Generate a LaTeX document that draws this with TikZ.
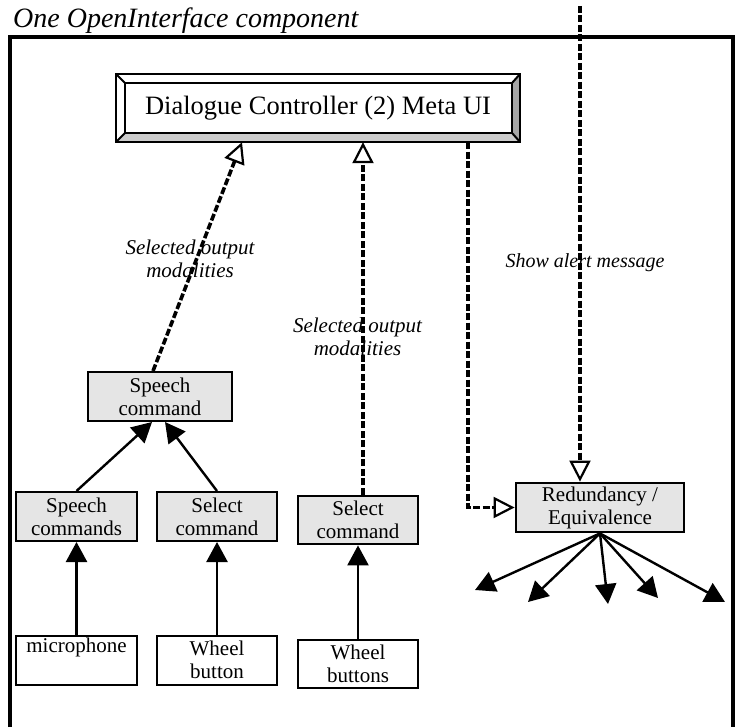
\documentclass[tikz,border=0pt]{standalone}
\usepackage{fontspec}
\setmainfont{Liberation Serif}
\usetikzlibrary{arrows.meta,calc}
\begin{document}
\begin{tikzpicture}[x=1pt,y=-1pt,
  box/.style={draw, line width=2pt, fill=gray!20, minimum width=120pt, minimum height=49pt, inner sep=0pt, align=center, font=\fontsize{21}{23}\selectfont},
  wbox/.style={box, fill=white},
  thickbox/.style={line width=2.8pt},
  dsh/.style={line width=3.6pt, dash pattern=on 7pt off 2.5pt},
  hollow/.style={-{Triangle[length=21pt,width=21pt,fill=white,line width=2.2pt]}},
  solidarr/.style={line width=2.4pt, -{Triangle[length=20pt,width=21pt]}},
  lbl/.style={font=\itshape\fontsize{21}{23}\selectfont, align=center, inner sep=0pt}
]
\useasboundingbox (0,0) rectangle (735,727);
% frame
\draw[line width=3.2pt] (10,727) -- (10,37) -- (733,37) -- (733,727);
\node[anchor=base west, inner sep=0pt, font=\itshape\fontsize{28}{32}\selectfont] (title) at (13,28) {One OpenInterface component};

% dialogue controller with bevel
\node[minimum width=404pt, minimum height=68pt, inner sep=0pt] (dlg) at (318,108) {};
\coordinate (o1) at (dlg.north west);
\coordinate (o2) at (dlg.north east);
\coordinate (o3) at (dlg.south east);
\coordinate (o4) at (dlg.south west);
\coordinate (i1) at ($(o1)+(9,9)$);
\coordinate (i2) at ($(o2)+(-8,9)$);
\coordinate (i3) at ($(o3)+(-8,-9)$);
\coordinate (i4) at ($(o4)+(9,-9)$);
\fill[white] (o1) rectangle (o3);
\fill[gray!40] (o4) -- (o3) -- (i3) -- (i4) -- cycle;
\fill[gray!70] (o2) -- (o3) -- (i3) -- (i2) -- cycle;
\draw[line width=2.4pt] (o1) rectangle (o3);
\draw[line width=2.4pt] (i1) rectangle (i3);
\draw[line width=2pt] (o1) -- (i1) (o2) -- (i2) (o3) -- (i3) (o4) -- (i4);
\node[font=\fontsize{26.5}{30}\selectfont, inner sep=0pt] (dlgtext) at (dlg.center) {Dialogue Controller (2) Meta UI};

% boxes
\node[box, minimum width=144pt] (speech) at (160,396.5) {Speech\\command};
\node[box, minimum width=121pt] (spcmds) at (76.5,516.5) {Speech\\commands};
\node[box] (selL) at (217,516.5) {Select\\command};
\node[box, thickbox, minimum height=48pt] (selR) at (358,520) {Select\\command};
\node[wbox, minimum width=121pt] (mic) at (76.5,660) {microphone\\\strut};
\node[wbox] (wheelL) at (217,660) {Wheel\\button};
\node[wbox, thickbox, minimum height=48pt] (wheelR) at (358,664) {Wheel\\buttons};
\node[box, thickbox, minimum width=168pt] (red) at (600,507.5) {Redundancy /\\Equivalence};

% solid arrows
\draw[solidarr] (spcmds.north) -- ([xshift=-8pt]speech.south);
\draw[solidarr] (selL.north) -- ([xshift=5pt]speech.south);
\draw[solidarr] (mic.north) -- (spcmds.south);
\draw[solidarr] (wheelL.north) -- (selL.south);
\draw[solidarr] (wheelR.north) -- (selR.south);

% dashed arrows
\draw[dsh, hollow] ([xshift=-7pt]speech.north) -- ([xshift=-76pt]dlg.south);
\draw[dsh, hollow] ([xshift=5pt]selR.north) -- ([xshift=5pt]selR.north |- dlg.south);
\coordinate (corner) at ([xshift=150pt]dlg.south |- red.west);
\draw[dsh, hollow] ([xshift=150pt]dlg.south) -- (corner) -- (red.west);
\coordinate (alertsrc) at (580,6);
\draw[dsh, hollow] (alertsrc) -- (alertsrc |- red.north);

% labels
\node[lbl] (lab1) at (190,258.5) {Selected output\\modalities};
\node[lbl] (lab2) at (357.5,336.5) {Selected output\\modalities};
\node[lbl, font=\itshape\fontsize{20}{23}\selectfont] (lab3) at (585,263) {Show alert message};

% outputs
\coordinate (t1) at (475,590);
\coordinate (t2) at (528,602);
\coordinate (t3) at (608,604);
\coordinate (t4) at (658,598);
\coordinate (t5) at (725,602);
\foreach \t in {t1,t2,t3,t4,t5}
  \draw[solidarr] (red.south) -- (\t);
\end{tikzpicture}
\end{document}
